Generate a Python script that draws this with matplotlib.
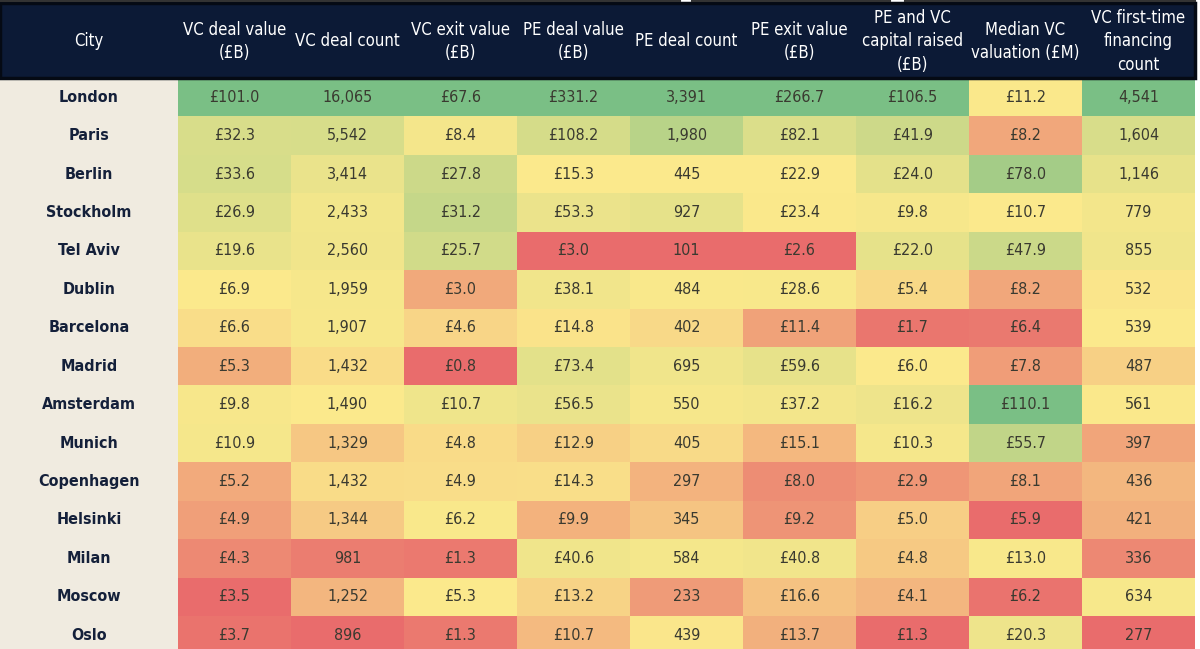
import numpy as np
import matplotlib.pyplot as plt
from matplotlib import font_manager
from matplotlib.patches import Rectangle
from matplotlib.colors import to_rgb

cities = ["London", "Paris", "Berlin", "Stockholm", "Tel Aviv", "Dublin", "Barcelona",
          "Madrid", "Amsterdam", "Munich", "Copenhagen", "Helsinki", "Milan", "Moscow", "Oslo"]

headers = ["City", "VC deal value\n(£B)", "VC deal count", "VC exit value\n(£B)",
           "PE deal value\n(£B)", "PE deal count", "PE exit value\n(£B)",
           "PE and VC\ncapital raised\n(£B)", "Median VC\nvaluation (£M)",
           "VC first-time\nfinancing\ncount"]

vc_deal_value = [101.0, 32.3, 33.6, 26.9, 19.6, 6.9, 6.6, 5.3, 9.8, 10.9, 5.2, 4.9, 4.3, 3.5, 3.7]
vc_deal_count = [16065, 5542, 3414, 2433, 2560, 1959, 1907, 1432, 1490, 1329, 1432, 1344, 981, 1252, 896]
vc_exit_value = [67.6, 8.4, 27.8, 31.2, 25.7, 3.0, 4.6, 0.8, 10.7, 4.8, 4.9, 6.2, 1.3, 5.3, 1.3]
pe_deal_value = [331.2, 108.2, 15.3, 53.3, 3.0, 38.1, 14.8, 73.4, 56.5, 12.9, 14.3, 9.9, 40.6, 13.2, 10.7]
pe_deal_count = [3391, 1980, 445, 927, 101, 484, 402, 695, 550, 405, 297, 345, 584, 233, 439]
pe_exit_value = [266.7, 82.1, 22.9, 23.4, 2.6, 28.6, 11.4, 59.6, 37.2, 15.1, 8.0, 9.2, 40.8, 16.6, 13.7]
capital_raised = [106.5, 41.9, 24.0, 9.8, 22.0, 5.4, 1.7, 6.0, 16.2, 10.3, 2.9, 5.0, 4.8, 4.1, 1.3]
median_valuation = [11.2, 8.2, 78.0, 10.7, 47.9, 8.2, 6.4, 7.8, 110.1, 55.7, 8.1, 5.9, 13.0, 6.2, 20.3]
first_time_count = [4541, 1604, 1146, 779, 855, 532, 539, 487, 561, 397, 436, 421, 336, 634, 277]

columns = [vc_deal_value, vc_deal_count, vc_exit_value, pe_deal_value, pe_deal_count,
           pe_exit_value, capital_raised, median_valuation, first_time_count]
is_money = [True, False, True, True, False, True, True, True, False]

# pick a narrow font if one is installed
names = {f.name for f in font_manager.fontManager.ttflist}
narrow = [f for f in font_manager.fontManager.ttflist
          if ("Narrow" in f.name or "Condensed" in f.name or f.stretch in ("condensed", "semi-condensed"))]
family = ["DejaVu Sans"]
stretch = "normal"
if "Liberation Sans Narrow" in names:
    family = ["Liberation Sans Narrow", "DejaVu Sans"]
elif narrow:
    family = [narrow[0].name, "DejaVu Sans"]
    stretch = narrow[0].stretch
plt.rcParams['font.family'] = family
plt.rcParams['font.stretch'] = stretch

red = np.array(to_rgb("#e96c6c"))
yellow = np.array(to_rgb("#fbe98c"))
green = np.array(to_rgb("#7bbf85"))


def scale_color(v, vals):
    # 3-colour scale: min -> red, median -> yellow, max -> green
    lo, mid, hi = min(vals), np.median(vals), max(vals)
    if v >= mid:
        t = (v - mid) / (hi - mid) if hi > mid else 0
        return yellow + (green - yellow) * t
    t = (mid - v) / (mid - lo) if mid > lo else 0
    return yellow + (red - yellow) * t


# layout (pixels)
W, H = 1200, 649
city_w = 178
col_w = 113.0
head_top, head_bot = 3, 78
row_h = 38.43

fig = plt.figure(figsize=(W / 100, H / 100), dpi=100)
ax = fig.add_axes([0, 0, 1, 1])
ax.set_xlim(0, W)
ax.set_ylim(H, 0)
ax.axis("off")

n_rows = len(cities)
n_cols = len(columns)
table_right = city_w + n_cols * col_w

grid = np.array([[scale_color(columns[j][i], columns[j]) for j in range(n_cols)]
                 for i in range(n_rows)])
ax.imshow(grid, extent=[city_w, table_right, head_bot + n_rows * row_h, head_bot],
          aspect="auto", interpolation="nearest", zorder=1)

ax.add_patch(Rectangle((0, head_bot), city_w, H, facecolor="#f0ebe0", edgecolor="none", zorder=1))

ax.add_patch(Rectangle((0, head_top), table_right, head_bot - head_top,
                       facecolor="#0c1a36", edgecolor="#050a14", linewidth=2.5, zorder=2))
ax.plot([0, 680], [1, 1], color="#333333", linewidth=1.5, zorder=2)
ax.plot([692, 890], [1, 1], color="#333333", linewidth=1.5, zorder=2)
ax.plot([905, 1195], [1, 1], color="#333333", linewidth=1.5, zorder=2)

centers = [city_w / 2] + [city_w + col_w * (j + 0.5) for j in range(n_cols)]
for x, h in zip(centers, headers):
    ax.text(x, (head_top + head_bot) / 2 + 1, h, color="white", fontsize=12,
            ha="center", va="center", linespacing=1.4, zorder=3)

for i, c in enumerate(cities):
    y = head_bot + row_h * (i + 0.5)
    ax.text(centers[0], y, c, color="#14203a", fontsize=11.5, fontweight="bold",
            ha="center", va="center", zorder=3)
    for j in range(n_cols):
        v = columns[j][i]
        s = f"£{v:.1f}" if is_money[j] else f"{v:,}"
        ax.text(centers[j + 1], y, s, color="#3a3a30", fontsize=11.5,
                ha="center", va="center", zorder=3)

fig.savefig("out.png", dpi=100, facecolor="white")
